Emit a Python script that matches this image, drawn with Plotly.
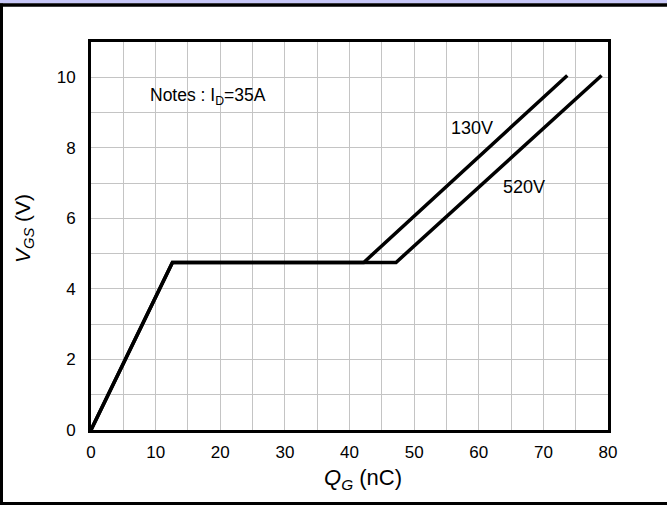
import plotly.graph_objects as go

# Data
qg_130 = [0, 12.6, 42.2, 73.7]
vgs_130 = [0, 4.75, 4.75, 10.05]
qg_520 = [0, 12.6, 47.2, 79.0]
vgs_520 = [0, 4.75, 4.75, 10.05]

x_ticks = [0, 10, 20, 30, 40, 50, 60, 70, 80]
y_ticks = [0, 2, 4, 6, 8, 10]

W, H = 667, 505
L, R, T, B = 91, 59, 42, 75
PW, PH = W - L - R, H - T - B

def px(x):
    return (x - L) / PW

def py(y):
    return (H - B - y) / PH

fig = go.Figure()
fig.add_trace(go.Scatter(x=qg_520, y=vgs_520, mode="lines",
                         line=dict(color="black", width=3.5), showlegend=False))
fig.add_trace(go.Scatter(x=qg_130, y=vgs_130, mode="lines",
                         line=dict(color="black", width=3.5), showlegend=False))

font = "Liberation Sans, Arial, sans-serif"
grid = "#c4c4c4"

fig.update_layout(
    width=W, height=H,
    margin=dict(l=L, r=R, t=T, b=B),
    paper_bgcolor="white", plot_bgcolor="white",
    font=dict(family=font, color="black", size=18),
    xaxis=dict(range=[0, 80], tickvals=x_ticks, showgrid=True,
               gridcolor=grid, gridwidth=1,
               minor=dict(dtick=5, showgrid=True, gridcolor=grid, gridwidth=1),
               showline=True, mirror=True, linecolor="black", linewidth=3,
               zeroline=False, ticks="", tickfont=dict(size=17), ticklabelstandoff=5),
    yaxis=dict(range=[0, 11], tickvals=y_ticks, showgrid=True,
               gridcolor=grid, gridwidth=1,
               minor=dict(dtick=1, showgrid=True, gridcolor=grid, gridwidth=1),
               showline=True, mirror=True, linecolor="black", linewidth=3,
               zeroline=False, ticks="", tickfont=dict(size=17), ticklabelstandoff=9),
)

fig.add_annotation(x=8.8, y=9.45, text="Notes : I<sub>D</sub>=35A", showarrow=False,
                   xanchor="left", yanchor="middle", font=dict(size=17.5))
fig.add_annotation(x=59.0, y=8.55, text="130V", showarrow=False,
                   xanchor="center", yanchor="middle", font=dict(size=18))
fig.add_annotation(x=67.0, y=6.88, text="520V", showarrow=False,
                   xanchor="center", yanchor="middle", font=dict(size=18))

# Axis titles
fig.add_annotation(xref="paper", yref="paper", x=px(363), y=py(479),
                   text="<i>Q</i><sub><i>G</i></sub> (nC)", showarrow=False,
                   xanchor="center", yanchor="middle", font=dict(size=22))
fig.add_annotation(xref="paper", yref="paper", x=px(24), y=py(229),
                   text="<i>V</i><sub><i>GS</i></sub> (V)", showarrow=False, textangle=-90,
                   xanchor="center", yanchor="middle", font=dict(size=21))

# Figure frame
fig.add_shape(type="rect", xref="paper", yref="paper",
              x0=px(0), x1=px(W), y0=py(0), y1=py(3.5),
              fillcolor="#c8c8f8", line=dict(width=0), layer="above")
fig.add_shape(type="line", xref="paper", yref="paper",
              x0=px(0), x1=px(W), y0=py(5), y1=py(5),
              line=dict(color="black", width=3.5), layer="above")
fig.add_shape(type="line", xref="paper", yref="paper",
              x0=px(1.5), x1=px(1.5), y0=py(3.5), y1=py(H),
              line=dict(color="black", width=3), layer="above")
fig.add_shape(type="line", xref="paper", yref="paper",
              x0=px(0), x1=px(W), y0=py(H - 1.5), y1=py(H - 1.5),
              line=dict(color="black", width=3), layer="above")

fig.write_html("out.html", config={"displayModeBar": False},
               post_script="document.body.style.margin='0';document.body.style.overflow='hidden';")
